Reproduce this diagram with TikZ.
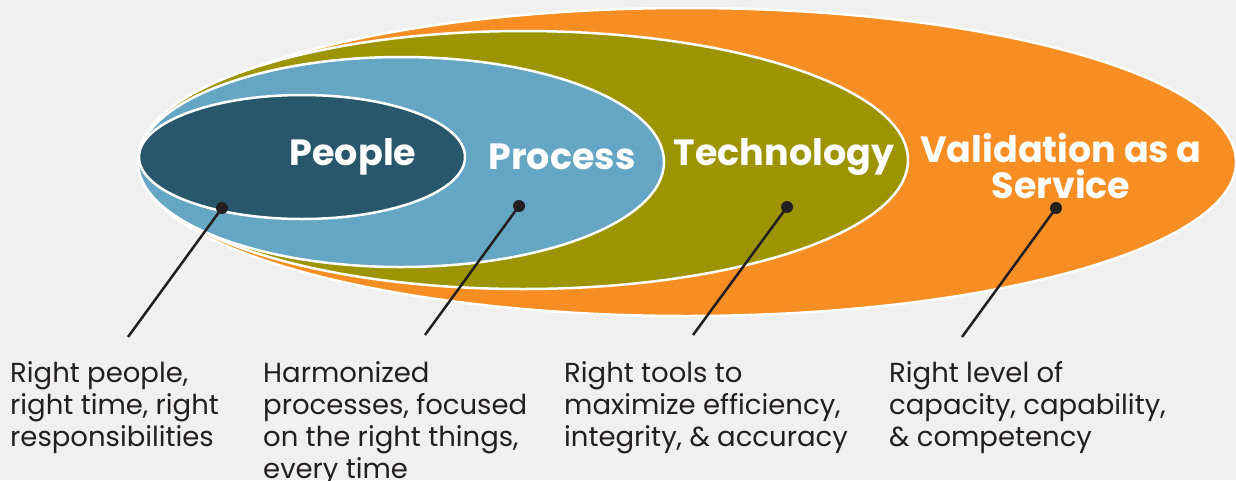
\documentclass[tikz,border=0pt]{standalone}
\usepackage{fontspec}
\setmainfont{Poppins}
\usetikzlibrary{shapes.geometric}
\definecolor{bgc}{HTML}{F0F0F0}
\definecolor{vorange}{HTML}{F78E23}
\definecolor{volive}{HTML}{9C9400}
\definecolor{vblue}{HTML}{64A6C4}
\definecolor{vdark}{HTML}{28566B}
\definecolor{vink}{HTML}{231F20}
\tikzset{
  ring/.style={ellipse, draw=white, line width=2.5pt, inner sep=0pt},
  title/.style={text=white, font=\fontsize{36.5}{36}\selectfont\bfseries, align=center, inner sep=0pt},
  dotpin/.style={circle, fill=vink, minimum size=12pt, inner sep=0pt},
  leader/.style={draw=vink, line width=2.5pt},
  caption/.style={text=vink, font=\fontsize{27.5}{32}\selectfont, align=left, anchor=north west, inner sep=0pt}
}
\begin{document}
\begin{tikzpicture}[x=1pt,y=-1pt]
\useasboundingbox (0,0) rectangle (1236,480);
\fill[bgc] (0,0) rectangle (1236,480);
\node[ring, fill=vorange, minimum width=1098pt, minimum height=308pt] (vaas) at (687,162) {};
\node[ring, fill=volive, minimum width=770pt, minimum height=258pt] (tech) at (523,160) {};
\node[ring, fill=vblue, minimum width=526pt, minimum height=210pt] (proc) at (401,162) {};
\node[ring, fill=vdark, minimum width=326pt, minimum height=124pt] (peop) at (302,157) {};
\node[title] (tpeop) at (353,157) {People};
\node[title] (tproc) at (562,157) {Process};
\node[title] (ttech) at (784,157) {Technology};
\node[title] (tvaas) at (1061,166) {Validation as a\\Service};
\node[dotpin] (d1) at (222,208) {};
\node[dotpin] (d2) at (519,206) {};
\node[dotpin] (d3) at (787,207) {};
\node[dotpin] (d4) at (1056,208) {};
\coordinate (e1) at (128,337);
\coordinate (e2) at (425,335);
\coordinate (e3) at (693,335);
\coordinate (e4) at (962,337);
\draw[leader] (d1.center) -- (e1);
\draw[leader] (d2.center) -- (e2);
\draw[leader] (d3.center) -- (e3);
\draw[leader] (d4.center) -- (e4);
\node[caption] (c1) at (10,361) {Right people,\\right time, right\\responsibilities};
\node[caption] (c2) at (263,361) {Harmonized\\processes, focused\\on the right things,\\every time};
\node[caption] (c3) at (564,361) {Right tools to\\maximize efficiency,\\integrity, \& accuracy};
\node[caption] (c4) at (889,361) {Right level of\\capacity, capability,\\\& competency};
\end{tikzpicture}
\end{document}
